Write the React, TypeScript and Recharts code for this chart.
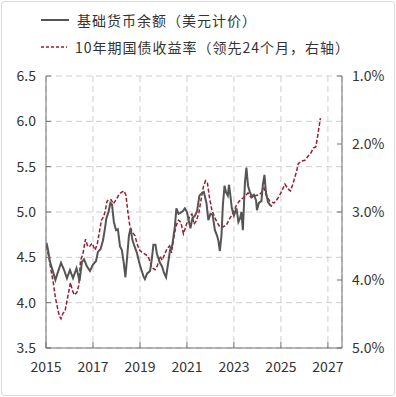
import React from "react";
import { LineChart, Line, XAxis, YAxis, CartesianGrid } from "recharts";

const xTicks = [2015, 2017, 2019, 2021, 2023, 2025, 2027];
const leftTicks = [3.5, 4.0, 4.5, 5.0, 5.5, 6.0, 6.5];
const rightTicks = [1, 2, 3, 4, 5];

const baseLabel = "基础货币余额（美元计价）";
const yieldLabel = "10年期国债收益率（领先24个月，右轴）";

const baseYears = [
  2015.02, 2015.09, 2015.17, 2015.3, 2015.4, 2015.51, 2015.64, 2015.77, 2015.89, 2016.02,
  2016.15, 2016.3, 2016.43, 2016.53, 2016.62, 2016.74, 2016.87, 2017.0, 2017.13, 2017.21,
  2017.32, 2017.43, 2017.51, 2017.57, 2017.66, 2017.74, 2017.81, 2017.89, 2017.98, 2018.06,
  2018.15, 2018.23, 2018.32, 2018.38, 2018.45, 2018.53, 2018.6, 2018.68, 2018.77, 2018.87,
  2018.96, 2019.04, 2019.15, 2019.21, 2019.3, 2019.43, 2019.51, 2019.57, 2019.66, 2019.72,
  2019.85, 2019.94, 2020.02, 2020.11, 2020.19, 2020.28, 2020.38, 2020.49, 2020.55, 2020.64,
  2020.72, 2020.83, 2020.91, 2021.0, 2021.09, 2021.15, 2021.23, 2021.34, 2021.43, 2021.53,
  2021.64, 2021.72, 2021.83, 2021.91, 2022.0, 2022.09, 2022.19, 2022.28, 2022.34, 2022.4,
  2022.47, 2022.53, 2022.6, 2022.66, 2022.74, 2022.79, 2022.85, 2022.91, 2023.0, 2023.11,
  2023.19, 2023.26, 2023.32, 2023.38, 2023.47, 2023.53, 2023.6, 2023.68, 2023.77, 2023.85,
  2023.94, 2023.98, 2024.06, 2024.17, 2024.23, 2024.3, 2024.36, 2024.45, 2024.53, 2024.62,
];
const baseValues = [
  4.66, 4.58, 4.45, 4.34, 4.25, 4.34, 4.44, 4.36, 4.27, 4.36,
  4.27, 4.38, 4.24, 4.45, 4.48, 4.4, 4.35, 4.42, 4.46, 4.56,
  4.59, 4.69, 4.82, 4.93, 5.0, 5.1, 5.08, 4.89, 4.8, 4.81,
  4.62, 4.58, 4.42, 4.28, 4.49, 4.74, 4.82, 4.69, 4.62, 4.55,
  4.45, 4.38, 4.29, 4.26, 4.32, 4.35, 4.49, 4.64, 4.64, 4.54,
  4.44, 4.4, 4.33, 4.28, 4.42, 4.58, 4.64, 4.85, 5.04, 4.98,
  4.99, 5.01, 5.04, 5.0, 4.89, 4.82, 4.93, 4.96, 5.01, 5.18,
  5.21, 5.22, 5.1, 4.91, 4.98, 4.97, 4.8, 4.74, 4.68, 4.57,
  4.74, 5.08, 5.29, 5.22, 5.18, 5.3, 5.18, 5.04, 4.96, 5.04,
  4.89, 4.93, 5.0, 4.8, 5.33, 5.49, 5.29, 5.22, 5.17, 5.19,
  5.13, 5.02, 5.1, 5.12, 5.3, 5.41, 5.22, 5.11, 5.08, 5.06,
];

const yieldYears = [
  2015.02, 2015.13, 2015.21, 2015.32, 2015.4, 2015.49, 2015.57, 2015.64, 2015.72, 2015.81,
  2015.89, 2015.98, 2016.04, 2016.13, 2016.21, 2016.32, 2016.4, 2016.47, 2016.57, 2016.68,
  2016.77, 2016.85, 2016.96, 2017.09, 2017.19, 2017.28, 2017.36, 2017.45, 2017.51, 2017.6,
  2017.68, 2017.77, 2017.87, 2018.0, 2018.11, 2018.21, 2018.32, 2018.4, 2018.49, 2018.57,
  2018.66, 2018.79, 2018.87, 2018.98, 2019.11, 2019.26, 2019.38, 2019.51, 2019.64, 2019.74,
  2019.85, 2019.94, 2020.04, 2020.15, 2020.26, 2020.34, 2020.43, 2020.53, 2020.64, 2020.74,
  2020.85, 2020.98, 2021.11, 2021.21, 2021.3, 2021.4, 2021.51, 2021.6, 2021.7, 2021.79,
  2021.87, 2021.96, 2022.06, 2022.17, 2022.28, 2022.4, 2022.53, 2022.68, 2022.83, 2022.98,
  2023.11, 2023.23, 2023.4, 2023.6, 2023.74, 2023.89, 2024.06, 2024.19, 2024.28, 2024.38,
  2024.53, 2024.7, 2024.85, 2025.0, 2025.17, 2025.3, 2025.4, 2025.51, 2025.66, 2025.74,
  2025.87, 2026.02, 2026.15, 2026.28, 2026.38, 2026.49, 2026.57, 2026.64, 2026.68,
];
const yieldValues = [
  3.5, 3.68, 3.85, 4.06, 4.26, 4.41, 4.53, 4.57, 4.49, 4.46,
  4.31, 4.15, 4.04, 4.16, 4.22, 4.18, 4.07, 3.71, 3.62, 3.4,
  3.5, 3.51, 3.46, 3.56, 3.46, 3.28, 3.12, 3.07, 3.0, 2.84,
  2.82, 2.82, 2.88, 2.81, 2.74, 2.71, 2.69, 2.75, 3.01, 3.21,
  3.29, 3.35, 3.46, 3.56, 3.6, 3.63, 3.68, 3.82, 3.85, 3.79,
  3.65, 3.71, 3.63, 3.54, 3.5, 3.6, 3.4, 3.21, 3.12, 3.15,
  3.32, 3.18, 3.07, 3.03, 3.18, 3.13, 3.01, 2.82, 2.63, 2.54,
  2.57, 2.79, 2.97, 3.07, 3.15, 3.22, 3.22, 3.19, 3.09, 3.0,
  2.9, 2.84, 2.79, 2.72, 2.79, 2.76, 2.75, 2.71, 2.65, 2.76,
  2.84, 2.87, 2.81, 2.72, 2.59, 2.66, 2.69, 2.59, 2.41, 2.29,
  2.25, 2.24, 2.18, 2.13, 2.06, 2.04, 1.87, 1.71, 1.62,
];

const baseData = baseYears.map((t, i) => ({ t, v: baseValues[i] }));
const yieldData = yieldYears.map((t, i) => ({ t, v: yieldValues[i] }));

const FONT = '"Noto Sans CJK SC", "Noto Sans", sans-serif';
const AXIS = "#707070";
const TEXT = "#333";
const BASE_COLOR = "#555555";
const YIELD_COLOR = "#9a1c32";

const LeftTick = (props: any) => {
  const { x, y, payload } = props;
  return (
    <g>
      <line x1={x} x2={x + 5} y1={y} y2={y} stroke={AXIS} strokeWidth={1} />
      <text x={x - 10} y={y} dy="0.35em" textAnchor="end" fontSize={14} fill={TEXT} fontFamily={FONT}>
        {Number(payload.value).toFixed(1)}
      </text>
    </g>
  );
};

const RightTick = (props: any) => {
  const { x, y, payload } = props;
  return (
    <g>
      <line x1={x} x2={x - 5} y1={y} y2={y} stroke={AXIS} strokeWidth={1} />
      <text x={x + 10} y={y} dy="0.35em" textAnchor="start" fontSize={14} fill={TEXT} fontFamily={FONT}>
        {Number(payload.value).toFixed(1) + "%"}
      </text>
    </g>
  );
};

const BottomTick = (props: any) => {
  const { x, y, payload } = props;
  return (
    <g>
      <line x1={x} x2={x} y1={y} y2={y - 6} stroke={AXIS} strokeWidth={1} />
      <text x={x} y={y + 19} dy="0.35em" textAnchor="middle" fontSize={14} fill={TEXT} fontFamily={FONT}>
        {payload.value}
      </text>
    </g>
  );
};

export default function App() {
  return (
    <div
      style={{
        position: "absolute",
        left: 0,
        top: 0,
        width: 396,
        height: 397,
        background: "#fff",
        fontFamily: FONT,
        overflow: "hidden",
      }}
    >
      <div
        style={{
          position: "absolute",
          left: 1,
          top: 1,
          width: 392,
          height: 393,
          border: "1px solid #dadada",
          borderRadius: 3,
        }}
      />
      <div style={{ position: "absolute", left: 41, top: 8, fontSize: 14, color: TEXT, letterSpacing: 1 }}>
        <div style={{ display: "flex", alignItems: "center", height: 24 }}>
          <svg width={30} height={10} style={{ marginRight: 6 }}>
            <line x1={0} x2={28} y1={5} y2={5} stroke={BASE_COLOR} strokeWidth={2} />
          </svg>
          <span>{baseLabel}</span>
        </div>
        <div style={{ display: "flex", alignItems: "center", height: 24, marginTop: 3 }}>
          <svg width={30} height={10} style={{ marginRight: 4 }}>
            <line x1={0} x2={26} y1={5} y2={5} stroke={YIELD_COLOR} strokeWidth={1.5} strokeDasharray="3 2" />
          </svg>
          <span>{yieldLabel}</span>
        </div>
      </div>
      <div style={{ position: "absolute", left: 0, top: 0 }}>
        <LineChart width={396} height={397} margin={{ top: 76, right: 0, bottom: 0, left: 0 }}>
          <CartesianGrid
            xAxisId="x"
            yAxisId="left"
            stroke="#cfcfcf"
            strokeDasharray="6 4"
            strokeWidth={1}
          />
          <XAxis
            xAxisId="x"
            type="number"
            dataKey="t"
            domain={[2015, 2027.6]}
            ticks={xTicks}
            interval={0}
            allowDataOverflow
            tickSize={0}
            tickMargin={0}
            tickLine={false}
            axisLine={{ stroke: AXIS }}
            tick={<BottomTick />}
            height={49}
          />
          <YAxis
            yAxisId="left"
            orientation="left"
            type="number"
            domain={[3.5, 6.5]}
            ticks={leftTicks}
            interval={0}
            allowDataOverflow
            width={46}
            tickSize={0}
            tickMargin={0}
            tickLine={false}
            axisLine={{ stroke: AXIS }}
            tick={<LeftTick />}
          />
          <YAxis
            yAxisId="right"
            orientation="right"
            type="number"
            domain={[1, 5]}
            reversed
            ticks={rightTicks}
            interval={0}
            allowDataOverflow
            width={54}
            tickSize={0}
            tickMargin={0}
            tickLine={false}
            axisLine={{ stroke: AXIS }}
            tick={<RightTick />}
          />
          <Line
            xAxisId="x"
            yAxisId="right"
            data={yieldData}
            dataKey="v"
            type="linear"
            stroke={YIELD_COLOR}
            strokeWidth={1.5}
            strokeDasharray="4 2"
            dot={false}
            isAnimationActive={false}
          />
          <Line
            xAxisId="x"
            yAxisId="left"
            data={baseData}
            dataKey="v"
            type="linear"
            stroke={BASE_COLOR}
            strokeWidth={2}
            dot={false}
            isAnimationActive={false}
          />
        </LineChart>
      </div>
    </div>
  );
}
